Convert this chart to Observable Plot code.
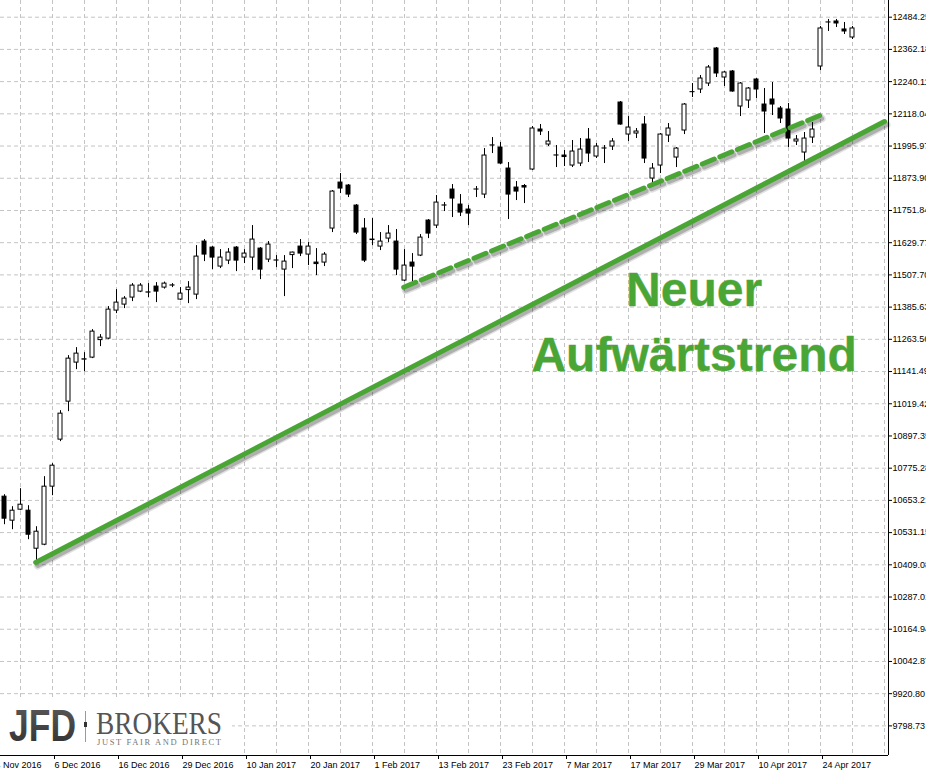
<!DOCTYPE html>
<html>
<head>
<meta charset="utf-8">
<script src="https://cdn.jsdelivr.net/npm/d3@7"></script>
<script src="https://cdn.jsdelivr.net/npm/@observablehq/plot@0.6"></script>
<style>
  body { margin: 0; background: #fff; }
  #chart { width: 926px; height: 771px; overflow: hidden; }
</style>
</head>
<body>
<div id="chart"></div>
<script>
// ---- Data (DAX daily candles, 28 Nov 2016 – 28 Apr 2017) ----
const open = [
10667.3,10576.3,10618.0,10614.2,10470.1,10485.3,10705.2,10883.4,11027.4,11175.3,
11186.6,11194.2,11260.6,11266.2,11372.4,11395.1,11421.7,11444.4,11440.6,11463.4,
11459.6,11467.2,11414.1,11450.1,11433.0,11634.0,11611.2,11539.2,11561.9,11611.2,
11573.3,11573.3,11607.4,11565.7,11561.9,11527.8,11582.8,11615.0,11584.7,11554.4,
11554.4,11683.3,11857.6,11846.3,11770.4,11683.3,11641.6,11615.0,11645.3,11634.0,
11486.1,11554.4,11580.9,11713.6,11694.6,11770.4,11831.1,11774.2,11755.3,11831.1,
11812.1,11997.9,11990.3,11910.7,11838.7,11844.4,11906.9,12058.6,12001.7,11960.0,
11960.0,11922.1,11929.7,12020.6,11956.2,11986.5,11994.1,12160.9,12039.6,12043.4,
12077.5,11872.8,11922.1,12035.8,11952.4,12054.8,12200.3,12210.2,12232.9,12365.6,
12255.7,12278.5,12145.8,12168.5,12248.1,12153.3,12172.3,12138.2,12134.4,12013.1,
11971.4,12028.2,12297.4,12464.2,12468.0,12437.7,12407.3];
const high = [
10674.8,10629.4,10697.6,10633.1,10553.5,10743.1,10792.4,10993.3,11201.8,11232.1,
11213.2,11300.4,11281.4,11387.6,11452.0,11425.5,11474.7,11474.7,11474.7,11478.5,
11480.4,11474.7,11459.6,11482.3,11618.8,11641.6,11615.0,11603.6,11607.4,11615.0,
11603.6,11694.6,11611.2,11634.0,11580.9,11580.9,11594.0,11641.6,11630.2,11607.4,
11592.3,11827.3,11891.8,11850.1,11774.2,11721.2,11721.2,11668.1,11694.6,11679.5,
11603.6,11588.5,11660.5,11717.4,11808.4,11781.8,11850.1,11812.1,11770.4,11842.5,
11986.5,12028.2,12009.3,11933.5,11861.4,11850.1,12069.9,12077.5,12051.0,11997.9,
11979.0,12016.9,12024.4,12062.4,12005.5,11997.9,12024.4,12164.7,12107.8,12062.4,
12107.8,11929.7,12043.4,12081.3,11990.3,12157.1,12232.9,12263.3,12301.2,12369.4,
12278.5,12282.2,12236.7,12217.8,12251.9,12214.0,12236.7,12145.8,12157.1,12035.8,
12047.2,12085.1,12449.0,12475.6,12475.6,12464.2,12449.0];
const low = [
10561.1,10542.2,10614.2,10504.3,10424.6,10481.5,10671.1,10875.8,10989.5,11148.7,
11141.1,11190.4,11235.9,11262.4,11361.0,11380.0,11406.5,11440.6,11421.7,11402.7,
11453.9,11459.6,11410.3,11398.9,11414.1,11558.1,11527.8,11531.6,11546.8,11520.2,
11550.6,11524.0,11489.9,11554.4,11535.4,11425.5,11531.6,11577.1,11543.0,11505.1,
11539.2,11668.1,11815.9,11800.8,11660.5,11554.4,11618.8,11599.8,11630.2,11505.1,
11482.3,11478.5,11577.1,11645.3,11683.3,11747.7,11725.0,11728.7,11694.6,11800.8,
11797.0,11967.6,11925.9,11717.4,11789.4,11778.0,11903.1,12035.8,11994.1,11914.5,
11918.3,11914.5,11918.3,11933.5,11948.6,11929.7,11979.0,12075.0,12013.1,12024.4,
11929.7,11846.3,11891.8,12009.3,11914.5,12039.6,12179.9,12195.0,12221.6,12255.7,
12221.6,12200.0,12107.8,12138.2,12176.1,12043.4,12111.6,12081.3,11990.3,11997.9,
11937.2,12005.5,12282.2,12430.1,12445.2,12418.7,12399.7];
const close = [
10583.9,10614.2,10636.9,10523.2,10534.6,10705.2,10784.8,10981.9,11190.4,11209.4,
11188.0,11292.8,11270.0,11376.2,11402.7,11417.9,11467.2,11467.2,11441.5,11444.4,
11474.7,11468.0,11436.8,11459.6,11577.1,11584.7,11573.3,11573.3,11592.3,11561.9,
11588.5,11641.6,11527.8,11622.6,11562.5,11558.1,11592.3,11588.5,11615.0,11548.7,
11584.7,11823.5,11834.9,11812.1,11668.1,11561.9,11639.7,11634.0,11664.3,11527.8,
11543.0,11539.2,11649.1,11664.3,11781.8,11771.0,11797.0,11743.9,11740.1,11831.5,
11960.0,11998.5,11929.7,11812.1,11823.5,11838.7,12062.4,12051.0,12013.1,11960.5,
11954.3,11975.2,11982.7,11967.6,11994.1,11987.0,12013.1,12077.5,12066.1,12051.0,
11948.6,11910.7,12039.6,12062.4,11986.5,12153.3,12200.0,12251.9,12293.6,12270.9,
12274.7,12202.6,12232.9,12214.0,12210.2,12126.8,12153.3,12100.3,12024.4,12020.6,
12024.4,12058.6,12441.5,12464.5,12460.4,12430.1,12441.5];

// bar index of each date label (bar 0 = 28 Nov 2016)
const dateTickIndex = [-2, 6, 14, 22, 30, 38, 46, 54, 62, 70, 78, 86, 94, 102];
const dateTickLabels = ["24 Nov 2016","6 Dec 2016","16 Dec 2016","29 Dec 2016","10 Jan 2017","20 Jan 2017",
  "1 Feb 2017","13 Feb 2017","23 Feb 2017","7 Mar 2017","17 Mar 2017","29 Mar 2017","10 Apr 2017","24 Apr 2017"];
const priceTicks = [12484.25,12362.18,12240.11,12118.04,11995.97,11873.90,11751.84,11629.77,11507.70,
  11385.63,11263.56,11141.49,11019.42,10897.35,10775.28,10653.21,10531.15,10409.08,10287.01,
  10164.94,10042.87,9920.80,9798.73];
const gridBarIndex = d3.range(-2, 111, 4);

// trend lines (bar index, price)
const trendSolidBars = [3.9, 110.0];
const trendSolidPrices = [10418, 12089];
const trendDashBars = [49.9, 102.4];
const trendDashPrices = [11461, 12118];

// annotation
const noteLines = ["Neuer", "Aufwärtstrend"];
const noteBar = [86.2, 86.2];
const notePrice = [11391, 11145];

// ---- build tables ----
const candles = open.map((o, i) => ({i, o, h: high[i], l: low[i], c: close[i], up: close[i] >= o}));
const solid = trendSolidBars.map((b, k) => ({b, p: trendSolidPrices[k]}));
const dashed = trendDashBars.map((b, k) => ({b, p: trendDashPrices[k]}));
const notes = noteLines.map((t, k) => ({t, b: noteBar[k], p: notePrice[k]}));
const labelOf = new Map(dateTickIndex.map((d, k) => [d, dateTickLabels[k]]));

const xDomain = [-0.5, 110.5];
const yDomain = [9686.5, 12547.5];
const green = "#4aa634";
const gridColor = "#c4c4c4";
const axisFont = "Liberation Sans, Arial, sans-serif";

function logo(index, scales, values, dims) {
  const b = dims.height - dims.marginBottom;
  const g = d3.create("svg:g").attr("text-anchor", "start");
  g.append("rect").attr("x", 0).attr("y", b - 57).attr("width", 232).attr("height", 57).attr("fill", "#fff");
  const grad = g.append("defs").append("linearGradient").attr("id", "jfdgrad")
    .attr("x1", 0).attr("y1", 0).attr("x2", 0).attr("y2", 1);
  grad.append("stop").attr("offset", "0").attr("stop-color", "#5c5c5c");
  grad.append("stop").attr("offset", "1").attr("stop-color", "#2f2f2f");
  g.append("text").text("JFD").attr("x", 9).attr("y", b - 14).attr("text-anchor", "start")
    .attr("font-family", "Liberation Sans, Arial, sans-serif").attr("font-weight", "bold")
    .attr("font-size", 44).attr("textLength", 67).attr("lengthAdjust", "spacingAndGlyphs")
    .attr("fill", "url(#jfdgrad)");
  g.append("line").attr("x1", 85.5).attr("x2", 85.5).attr("y1", b - 44).attr("y2", b - 13)
    .attr("stroke", "#9a9a9a").attr("stroke-width", 1);
  g.append("rect").attr("x", 84).attr("y", b - 33).attr("width", 3).attr("height", 5).attr("fill", "#333");
  g.append("text").text("BROKERS").attr("x", 96).attr("y", b - 21).attr("text-anchor", "start")
    .attr("font-family", "Liberation Serif, Times New Roman, serif")
    .attr("font-size", 32).attr("textLength", 126).attr("lengthAdjust", "spacingAndGlyphs")
    .attr("fill", "#555");
  g.append("text").text("JUST FAIR AND DIRECT").attr("x", 97).attr("y", b - 10.5).attr("text-anchor", "start")
    .attr("font-family", "Liberation Serif, Times New Roman, serif")
    .attr("font-size", 8.5).attr("textLength", 124).attr("lengthAdjust", "spacing")
    .attr("fill", "#777");
  return g.node();
}

const shadowLine = (data, extra) => [
  Plot.line(data, {x: "b", y: "p", stroke: "#000", strokeOpacity: 0.12, strokeWidth: 8, dx: 2, dy: 3, ...extra}),
  Plot.line(data, {x: "b", y: "p", stroke: "#000", strokeOpacity: 0.22, strokeWidth: 5, dx: 2, dy: 3, ...extra})
];

const chart = Plot.plot({
  width: 926,
  height: 771,
  marginTop: 0,
  marginLeft: 0,
  marginRight: 38,
  marginBottom: 16,
  style: {fontFamily: axisFont, fontSize: "9px", background: "#fff", color: "#000"},
  x: {domain: xDomain, axis: null},
  y: {domain: yDomain, axis: null},
  marks: [
    Plot.gridY(priceTicks, {stroke: gridColor, strokeOpacity: 1, strokeDasharray: "4,3"}),
    Plot.gridX(gridBarIndex, {stroke: gridColor, strokeOpacity: 1, strokeDasharray: "4,3"}),
    logo,
    Plot.ruleX(candles, {x: "i", y1: "l", y2: "h", stroke: "#000", strokeWidth: 1}),
    Plot.rect(candles.filter(d => d.up), {x1: d => d.i - 0.25, x2: d => d.i + 0.25, y1: "o", y2: "c",
      fill: "#fff", stroke: "#000", strokeWidth: 1}),
    Plot.rect(candles.filter(d => !d.up), {x1: d => d.i - 0.25, x2: d => d.i + 0.25, y1: "o", y2: "c",
      fill: "#000", stroke: "#000", strokeWidth: 1}),
    ...shadowLine(solid, {}),
    ...shadowLine(dashed, {strokeDasharray: "13,6"}),
    Plot.line(solid, {x: "b", y: "p", stroke: green, strokeWidth: 5}),
    Plot.line(dashed, {x: "b", y: "p", stroke: green, strokeWidth: 5, strokeDasharray: "13,6"}),
    Plot.text(notes, {x: "b", y: "p", text: "t", lineAnchor: "bottom", textAnchor: "middle",
      fontSize: 48, fontWeight: "bold", fontFamily: "Liberation Sans, Arial, sans-serif",
      fill: green, stroke: "#2f6e22", strokeOpacity: 0.35, strokeWidth: 0.8, ariaLabel: "note"}),
    Plot.ruleX([xDomain[1]], {stroke: "#000", strokeWidth: 1}),
    Plot.ruleY([yDomain[0]], {stroke: "#000", strokeWidth: 1}),
    Plot.axisY(priceTicks, {anchor: "right", tickSize: 3, tickPadding: 1, tickFormat: d => d.toFixed(2),
      fontSize: 9, label: null}),
    Plot.axisX(dateTickIndex, {anchor: "bottom", tickSize: 4, tickPadding: 2, tickFormat: d => labelOf.get(d),
      textAnchor: "start", dx: 2, fontSize: 9, label: null})
  ]
});

document.getElementById("chart").appendChild(chart);
</script>
</body>
</html>
